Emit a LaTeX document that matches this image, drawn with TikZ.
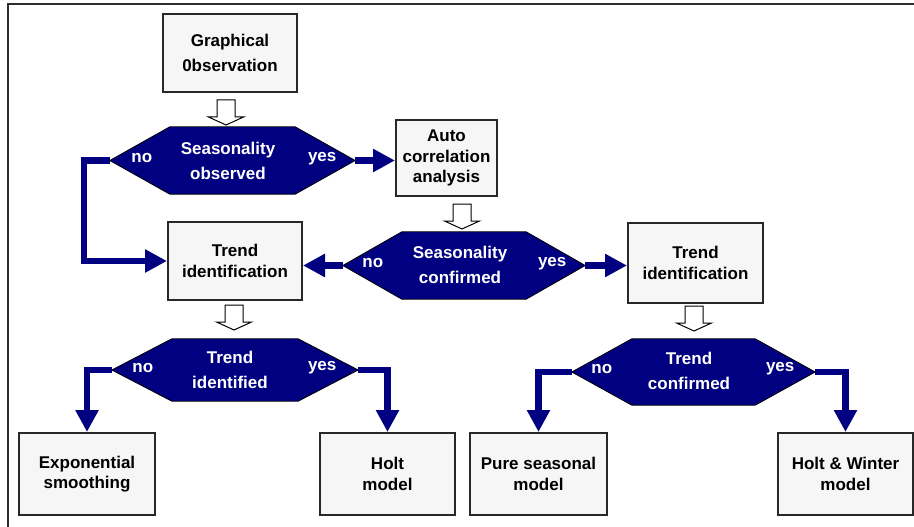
\documentclass[tikz,border=0pt]{standalone}
\usepackage{fontspec}
\setmainfont{Liberation Sans}
\usetikzlibrary{arrows.meta,calc,backgrounds}
\definecolor{navy}{RGB}{0,0,128}
\definecolor{boxfill}{RGB}{246,246,246}
\definecolor{boxline}{RGB}{40,40,40}
\definecolor{framegray}{RGB}{45,45,45}

\tikzset{
  pics/blockdown/.style={code={
    \filldraw[fill=white,draw=black,line width=1pt]
      (-9,0) -- (9,0) -- (9,17) -- (17.5,17) -- (0,25) -- (-17.5,17) -- (-9,17) -- cycle;
  }}
}

\begin{document}
\begin{tikzpicture}[x=1pt,y=-1pt,
  box/.style={draw=boxline, line width=2pt, fill=boxfill, align=center, inner sep=0pt,
    text=black, font=\bfseries\fontsize{17}{20.5}\selectfont},
  hexbox/.style={inner sep=0pt, draw=none},
  hextext/.style={align=center, inner sep=0pt, text=white,
    font=\bfseries\fontsize{17}{25}\selectfont},
  tag/.style={inner sep=0pt, text=white, font=\bfseries\fontsize{17}{20}\selectfont},
  conn/.style={draw=navy, line width=6.5pt, line join=miter,
    -{Triangle[width=22pt,length=22pt]}},
  hexfill/.style={fill=navy, draw=black, line width=0.8pt}
]
\useasboundingbox (0,0) rectangle (914,527);

% frame
\draw[framegray, line width=2pt] (7.5,527) -- (7.5,4.5) -- (914,4.5);

% process boxes
\node[box, minimum width=134, minimum height=78, font=\bfseries\fontsize{17}{25}\selectfont]
  (obs) at (230,53) {Graphical\\0bservation};
\node[box, minimum width=101, minimum height=76] (auto) at (446.5,158) {Auto\\correlation\\analysis};
\node[box, minimum width=134, minimum height=78] (trl) at (235,261) {Trend\\identification};
\node[box, minimum width=135, minimum height=80] (trr) at (695.5,263) {Trend\\identification};
\node[box, minimum width=136, minimum height=82] (exps) at (87,474) {Exponential\\smoothing};
\node[box, minimum width=135, minimum height=82] (holt) at (387.5,474) {Holt\\model};
\node[box, minimum width=137, minimum height=82] (pure) at (538.5,474) {Pure seasonal\\model};
\node[box, minimum width=135, minimum height=82] (hw) at (845.5,474) {Holt \& Winter\\model};

% decision frames
\node[hexbox, minimum width=245, minimum height=67] (d1) at (232.5,160.5) {};
\node[hexbox, minimum width=242, minimum height=67] (d2) at (464,265.5) {};
\node[hexbox, minimum width=246, minimum height=62] (d3) at (235,370) {};
\node[hexbox, minimum width=243, minimum height=66] (d4) at (693.5,372) {};

\begin{scope}[on background layer]
  \foreach \n/\c in {d1/60,d2/59,d3/60,d4/60}
    \filldraw[hexfill] (\n.west) -- ([xshift=\c pt]\n.north west) -- ([xshift=-\c pt]\n.north east)
      -- (\n.east) -- ([xshift=-\c pt]\n.south east) -- ([xshift=\c pt]\n.south west) -- cycle;
\end{scope}

% decision texts
\node[hextext] (d1t) at ([xshift=-4.5pt]d1.center) {Seasonality\\observed};
\node[hextext] (d2t) at ([xshift=-4pt,yshift=1pt]d2.center) {Seasonality\\confirmed};
\node[hextext] (d3t) at ([xshift=-5pt]d3.center) {Trend\\identified};
\node[hextext] (d4t) at ([xshift=-4.5pt,yshift=1.5pt]d4.center) {Trend\\confirmed};

% branch tags
\node[tag] (d1no)  at ([xshift=32pt,yshift=2pt]d1.west) {no};
\node[tag] (d1yes) at ([xshift=-33pt,yshift=2pt]d1.east) {yes};
\node[tag] (d2no)  at ([xshift=30pt,yshift=2pt]d2.west) {no};
\node[tag] (d2yes) at ([xshift=-33pt,yshift=2pt]d2.east) {yes};
\node[tag] (d3no)  at ([xshift=31pt,yshift=2pt]d3.west) {no};
\node[tag] (d3yes) at ([xshift=-36pt,yshift=2pt]d3.east) {yes};
\node[tag] (d4no)  at ([xshift=30pt,yshift=3pt]d4.west) {no};
\node[tag] (d4yes) at ([xshift=-35pt,yshift=3pt]d4.east) {yes};

% hollow step arrows
\pic at (226,100) {blockdown};
\pic at (462,204) {blockdown};
\pic at (234,305) {blockdown};
\pic at (694,306) {blockdown};

% decision branches
\draw[conn] (d1.west) -- ++(-26,0) |- (trl.west);
\draw[conn] (d1.east) -- (d1.east -| auto.west);
\draw[conn] (d2.west) -- (d2.west -| trl.east);
\draw[conn] (d2.east) -- (d2.east -| trr.west);
\draw[conn] (d3.west) -| (exps.north);
\draw[conn] (d3.east) -| (holt.north);
\draw[conn] (d4.west) -| (pure.north);
\draw[conn] (d4.east) -| (hw.north);
\end{tikzpicture}
\end{document}
